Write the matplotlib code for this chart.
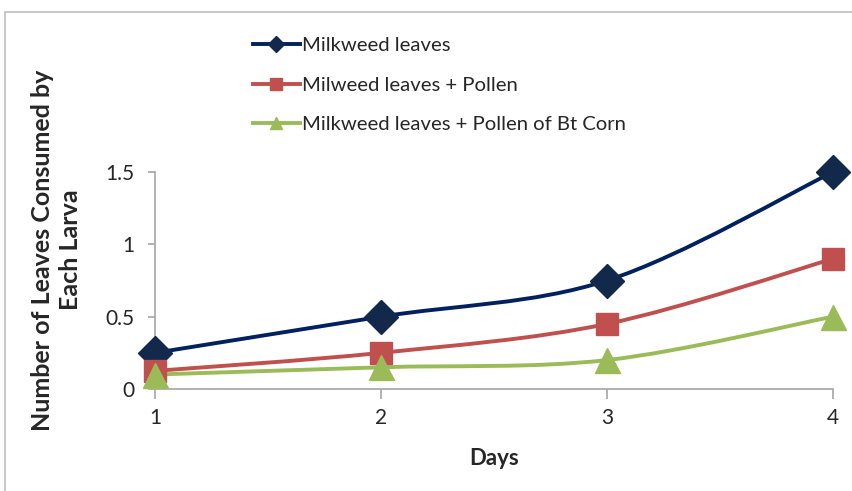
import numpy as np
import matplotlib
matplotlib.use("Agg")
import matplotlib.pyplot as plt
from matplotlib.path import Path
from matplotlib.patches import PathPatch, Rectangle
from matplotlib.lines import Line2D

days = [1, 2, 3, 4]
milkweed = [0.25, 0.5, 0.75, 1.5]
pollen = [0.125, 0.25, 0.45, 0.9]
bt_pollen = [0.1, 0.15, 0.2, 0.5]
labels = ["Milkweed leaves", "Milweed leaves + Pollen", "Milkweed leaves + Pollen of Bt Corn"]
colors_line = ["#002060", "#C0504D", "#9BBB59"]
colors_mark = ["#13294B", "#C0504D", "#9BBB59"]
markers = ["D", "s", "^"]
msizes = [17, 16, 18]
yticks = [0, 0.5, 1, 1.5]
ytick_labels = ["0", "0.5", "1", "1.5"]

plt.rcParams['font.family'] = ['Lato', 'DejaVu Sans']

fig = plt.figure(figsize=(8.53, 4.91), dpi=100)
fig.patches.append(Rectangle((5/853, -0.1), 1.2, (491-12)/491 + 0.1, transform=fig.transFigure,
                             fill=False, edgecolor="#BFBFBF", linewidth=1.2))
ax = fig.add_axes([155/853, 102/491, (833-155)/853, (389-172)/491])


def smooth_path(x, y):
    x = np.asarray(x, float); y = np.asarray(y, float)
    n = len(x)
    verts = [(x[0], y[0])]
    codes = [Path.MOVETO]
    for i in range(n - 1):
        p0 = np.array([x[max(i-1, 0)], y[max(i-1, 0)]])
        p1 = np.array([x[i], y[i]])
        p2 = np.array([x[i+1], y[i+1]])
        p3 = np.array([x[min(i+2, n-1)], y[min(i+2, n-1)]])
        c1 = p1 + (p2 - p0) / 6.0
        c2 = p2 - (p3 - p1) / 6.0
        verts += [tuple(c1), tuple(c2), tuple(p2)]
        codes += [Path.CURVE4] * 3
    return Path(verts, codes)


handles = []
for series, cl, cm, mk, ms, lab in zip([milkweed, pollen, bt_pollen], colors_line, colors_mark,
                                        markers, msizes, labels):
    patch = PathPatch(smooth_path(days, series), facecolor="none", edgecolor=cl,
                      linewidth=2.8, zorder=3, capstyle="round", joinstyle="round")
    patch.set_clip_on(False)
    ax.add_patch(patch)
    ax.plot(days, series, linestyle="none", marker=mk, markersize=ms, color=cm,
            markeredgecolor=cm, zorder=4, clip_on=False)
    handles.append(Line2D([0], [0], color=cl, linewidth=2.8, marker=mk, markersize=8,
                          markerfacecolor=cm, markeredgecolor=cm, label=lab))

ax.set_xlim(1, 4)
ax.set_ylim(0, 1.5)
ax.set_xticks(days)
ax.set_xticklabels([str(d) for d in days])
ax.set_yticks(yticks)
ax.set_yticklabels(ytick_labels)
for s in ["top", "right"]:
    ax.spines[s].set_visible(False)
for s in ["left", "bottom"]:
    ax.spines[s].set_color("#A6A6A6")
    ax.spines[s].set_linewidth(1.2)
ax.tick_params(axis="x", direction="out", length=7, width=1.2, color="#A6A6A6",
               labelsize=15, labelcolor="#262626", pad=7)
ax.tick_params(axis="y", direction="out", length=5, width=1.2, color="#A6A6A6",
               labelsize=15, labelcolor="#262626", pad=10)
ax.patch.set_visible(False)

ax.set_xlabel("Days", fontsize=16, fontweight="bold", color="#262626", labelpad=14)
ax.set_ylabel("Number of Leaves Consumed by\nEach Larva", fontsize=18, fontweight="bold",
              color="#262626", linespacing=1.25)
ax.yaxis.set_label_coords(-0.108, 0.64)

leg = fig.legend(handles=handles, loc="upper left", bbox_to_anchor=(245/853, 1 - 29/491),
                 frameon=False, fontsize=14.6, handlelength=2.3, handletextpad=0.1,
                 labelspacing=1.1, borderaxespad=0)
for t in leg.get_texts():
    t.set_color("#262626")

fig.savefig("out.png", dpi=100)
